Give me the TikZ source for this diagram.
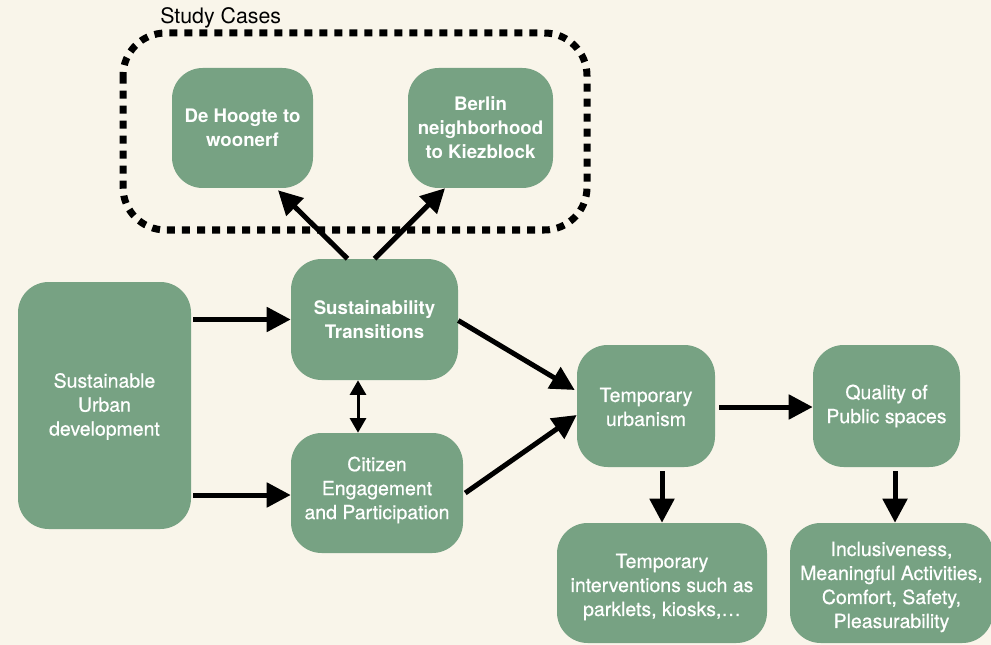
\documentclass[tikz,border=0pt]{standalone}
\usepackage{fontspec}
\setmainfont{TeX Gyre Heros}
\newfontfamily\mediumsans[FakeBold=0.6]{TeX Gyre Heros}
\usetikzlibrary{arrows.meta,calc}
\definecolor{paper}{HTML}{F9F5EA}
\definecolor{sage}{HTML}{77A283}
\tikzset{
  box/.style={draw=none, fill=sage, rounded corners=23pt, inner sep=0pt},
  boxtext/.style={align=center, text=white, inner sep=0pt,
    font=\mediumsans\fontsize{14.6}{18}\selectfont},
  boldtext/.style={boxtext, font=\fontsize{14}{18}\selectfont\bfseries},
  flow/.style={line width=3.75pt, -{Triangle[length=18pt,width=18pt]}},
  mutual/.style={line width=2.25pt, {Triangle[length=11pt,width=12pt]}-{Triangle[length=11pt,width=12pt]}},
  group/.style={draw=black, line width=5.25pt, dash pattern=on 6pt off 5.25pt, rounded corners=32pt},
}
\begin{document}
\begin{tikzpicture}[x=0.75pt,y=-0.75pt]
  \fill[paper] (0,0) rectangle (991,645);
  \useasboundingbox (0,0) rectangle (991,645);

  % study case group
  \draw[group] (123,33) rectangle (587,230);
  \node[anchor=west, font=\fontsize{16}{19}\selectfont, inner sep=0pt] (cases) at (160,18) {Study Cases};

  % boxes
  \node[box, minimum width=105.75pt, minimum height=90pt] (hoog) at (242.5,128) {};
  \node[box, minimum width=108.75pt, minimum height=90pt] (berl) at (480.5,128) {};
  \node[box, minimum width=125.25pt, minimum height=90.75pt] (st) at (374.5,319.5) {};
  \node[box, minimum width=129pt, minimum height=90pt] (cit) at (377,493) {};
  \node[box, minimum width=129.75pt, minimum height=185.25pt] (sud) at (104.5,405.5) {};
  \node[box, minimum width=103.5pt, minimum height=91.5pt] (tu) at (646,406) {};
  \node[box, minimum width=110.25pt, minimum height=91.5pt] (qual) at (886.5,406) {};
  \node[box, minimum width=157.5pt, minimum height=90pt] (ti) at (662,583) {};
  \node[box, minimum width=152.25pt, minimum height=90pt] (incl) at (891.5,583) {};

  % box labels
  \node[boldtext] (hoog-t) at (hoog) {De Hoogte to\\woonerf};
  \node[boldtext] (berl-t) at (berl) {Berlin\\neighborhood\\to Kiezblock};
  \node[boldtext] (st-t) at (st) {Sustainability\\Transitions};
  \node[boxtext] (cit-t) at ($(cit)+(0,-3)$) {Citizen\\Engagement\\and Participation};
  \node[boxtext] (sud-t) at ($(sud)+(0,1)$) {Sustainable\\Urban\\development};
  \node[boxtext] (tu-t) at ($(tu)+(0,1)$) {Temporary\\urbanism};
  \node[boxtext] (qual-t) at (qual) {Quality of\\Public spaces};
  \node[boxtext] (ti-t) at ($(ti)+(0,4)$) {Temporary\\interventions such as\\parklets, kiosks,\dots};
  \node[boxtext] (incl-t) at ($(incl)+(0,4)$) {Inclusiveness,\\Meaningful Activities,\\Comfort, Safety,\\Pleasurability};

  % connectors
  \draw[flow, shorten <=1.5pt] (sud.east |- st.west) -- (st.west);
  \draw[flow, shorten <=1.5pt] ($(sud.east |- cit.west)+(0,2)$) -- ($(cit.west)+(0,2)$);
  \draw[mutual] ($(st.south)+(-16.5,0)$) -- ($(cit.north)+(-19,0)$);
  \draw[flow] ($(st.north)+(-27,0)$) -- ($(hoog.south)+(35.5,2)$);
  \draw[flow] (st.north) -- ($(berl.south)+(-35.5,0)$);
  \draw[flow] ($(st.east)+(0,1)$) -- ($(tu.west)+(-2,-16)$);
  \draw[flow] ($(cit.east)+(2,0)$) -- ($(tu.west)+(0,9)$);
  \draw[flow, shorten <=3pt] ($(tu.east)+(0,1)$) -- ($(qual.west)+(0,1)$);
  \draw[flow, shorten <=3pt] (ti.north |- tu.south) -- (ti.north);
  \draw[flow, shorten <=3pt] ($(incl.north |- qual.south)+(3.5,0)$) -- ($(incl.north)+(3.5,0)$);
\end{tikzpicture}
\end{document}
